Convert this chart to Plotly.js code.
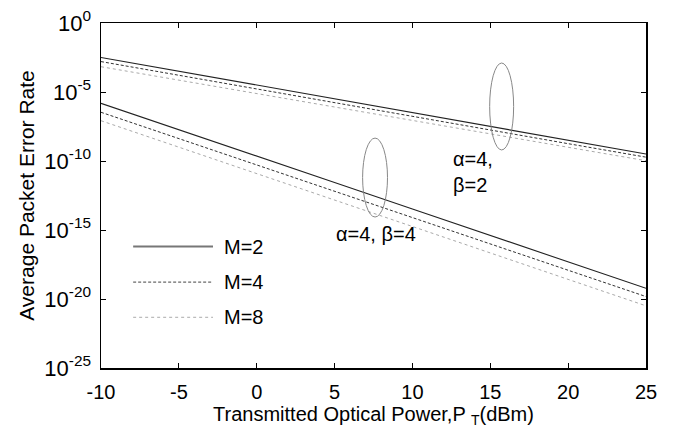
<!DOCTYPE html>
<html>
<head>
<meta charset="utf-8">
<script src="https://cdn.plot.ly/plotly-3.0.1.min.js"></script>
<style>html,body{margin:0;padding:0;background:#fff;}#chart{width:674px;height:439px;}</style>
</head>
<body>
<div id="chart"></div>
<script>
// Transmitted optical power P_T (dBm)
const powerDbm = [-10, -5, 0, 5, 10, 15, 20, 25];

// alpha=4, beta=2 group
const perB2M2 = [3.2e-3, 3.2e-4, 3.2e-5, 3.2e-6, 3.2e-7, 3.2e-8, 3.2e-9, 3.2e-10];
const perB2M4 = [1.6e-3, 1.6e-4, 1.7e-5, 1.7e-6, 1.7e-7, 1.8e-8, 1.8e-9, 1.9e-10];
const perB2M8 = [6.8e-4, 7.2e-5, 7.6e-6, 8.1e-7, 8.7e-8, 9.3e-9, 9.8e-10, 1.05e-10];

// alpha=4, beta=4 group
const perB4M2 = [1.5e-6, 1.9e-8, 2.2e-10, 2.8e-12, 3.3e-14, 4.1e-16, 4.9e-18, 6.0e-20];
const perB4M4 = [3.4e-7, 4.2e-9, 5.1e-11, 6.3e-13, 7.9e-15, 9.8e-17, 1.2e-18, 1.5e-20];
const perB4M8 = [8.3e-8, 1.0e-9, 1.2e-11, 1.5e-13, 1.8e-15, 2.2e-17, 2.6e-19, 3.2e-21];

const seriesNames = ['M=2', 'M=4', 'M=8'];

const xTickVals = [-10, -5, 0, 5, 10, 15, 20, 25];
const xTickText = ['-10', '-5', '0', '5', '10', '15', '20', '25'];
const yTickVals = [1, 1e-5, 1e-10, 1e-15, 1e-20, 1e-25];
const yTickText = ['10<sup>0</sup>', '10<sup>-5</sup>', '10<sup>-10</sup>', '10<sup>-15</sup>', '10<sup>-20</sup>', '10<sup>-25</sup>'];

const styles = [
  {color: '#222', width: 1.1, dash: 'solid'},
  {color: '#333', width: 1, dash: '3px,2px'},
  {color: '#aaa', width: 1, dash: 'dot'}
];
const legendColors = ['#777', '#444', '#aaa'];
const legendWidths = [2, 1, 1];

function mk(y, i, grp) {
  return {x: powerDbm, y: y, type: 'scatter', mode: 'lines', name: seriesNames[i] + ' ' + grp,
    showlegend: false, line: styles[i], hoverinfo: 'x+y+name'};
}

const traces = [
  mk(perB2M2, 0, 'β=2'), mk(perB2M4, 1, 'β=2'), mk(perB2M8, 2, 'β=2'),
  mk(perB4M2, 0, 'β=4'), mk(perB4M4, 1, 'β=4'), mk(perB4M8, 2, 'β=4')
];

const FONT = 'Liberation Sans, Arial, sans-serif';

// manual legend (long line samples)
const legY = [0.352, 0.249, 0.147];
const shapes = [];
const annotations = [];
for (let i = 0; i < 3; i++) {
  shapes.push({type: 'line', xref: 'paper', yref: 'paper', x0: 0.059, x1: 0.2055, y0: legY[i], y1: legY[i],
    line: {color: legendColors[i], width: legendWidths[i], dash: styles[i].dash}});
  annotations.push({xref: 'paper', yref: 'paper', x: 0.222, y: legY[i], xanchor: 'left', yanchor: 'middle',
    text: seriesNames[i], showarrow: false, font: {family: FONT, size: 20, color: '#000'}});
}
// ellipses marking groups (shape coords on log axis are data values)
shapes.push({type: 'circle', xref: 'x', yref: 'y', x0: 14.96, x1: 16.5, y0: Math.pow(10, -9.2), y1: Math.pow(10, -2.9),
  line: {color: '#888', width: 1}});
shapes.push({type: 'circle', xref: 'x', yref: 'y', x0: 6.8, x1: 8.4, y0: Math.pow(10, -14.06), y1: Math.pow(10, -8.34),
  line: {color: '#888', width: 1}});

annotations.push({xref: 'x', yref: 'y', x: 7.65, y: -15.3, text: 'α=4, β=4', showarrow: false,
  xanchor: 'center', yanchor: 'middle', font: {family: FONT, size: 20, color: '#000'}});
annotations.push({xref: 'x', yref: 'y', x: 12.5, y: -10.8, text: 'α=4,<br>β=2', showarrow: false,
  xanchor: 'left', yanchor: 'middle', align: 'left', font: {family: FONT, size: 20, color: '#000'}});

const layout = {
  width: 674, height: 439,
  margin: {l: 101, r: 28, t: 23, b: 71},
  paper_bgcolor: '#fff', plot_bgcolor: '#fff',
  font: {family: FONT, size: 20, color: '#000'},
  showlegend: false,
  xaxis: {
    range: [-10, 25], tickvals: xTickVals, ticktext: xTickText,
    ticks: 'inside', ticklen: 5, tickwidth: 1, tickcolor: '#000',
    showline: true, linecolor: '#000', linewidth: 1.5, mirror: 'ticks',
    showgrid: false, zeroline: false, ticklabelstandoff: 5,
    tickfont: {family: FONT, size: 20, color: '#000'},
    title: {text: 'Transmitted Optical Power,P <sub>T</sub>(dBm)', standoff: 4,
      font: {family: FONT, size: 20, color: '#000'}}
  },
  yaxis: {
    type: 'log', range: [-25, 0], tickvals: yTickVals, ticktext: yTickText,
    ticks: 'inside', ticklen: 5, tickwidth: 1, tickcolor: '#000',
    showline: true, linecolor: '#000', linewidth: 1.5, mirror: 'ticks',
    showgrid: false, zeroline: false, ticklabelstandoff: 4,
    tickfont: {family: FONT, size: 22, color: '#000'},
    title: {text: 'Average Packet Error Rate', standoff: 4,
      font: {family: FONT, size: 21, color: '#000'}}
  },
  shapes: shapes,
  annotations: annotations
};

Plotly.newPlot('chart', traces, layout, {displayModeBar: false, staticPlot: true});
</script>
</body>
</html>
